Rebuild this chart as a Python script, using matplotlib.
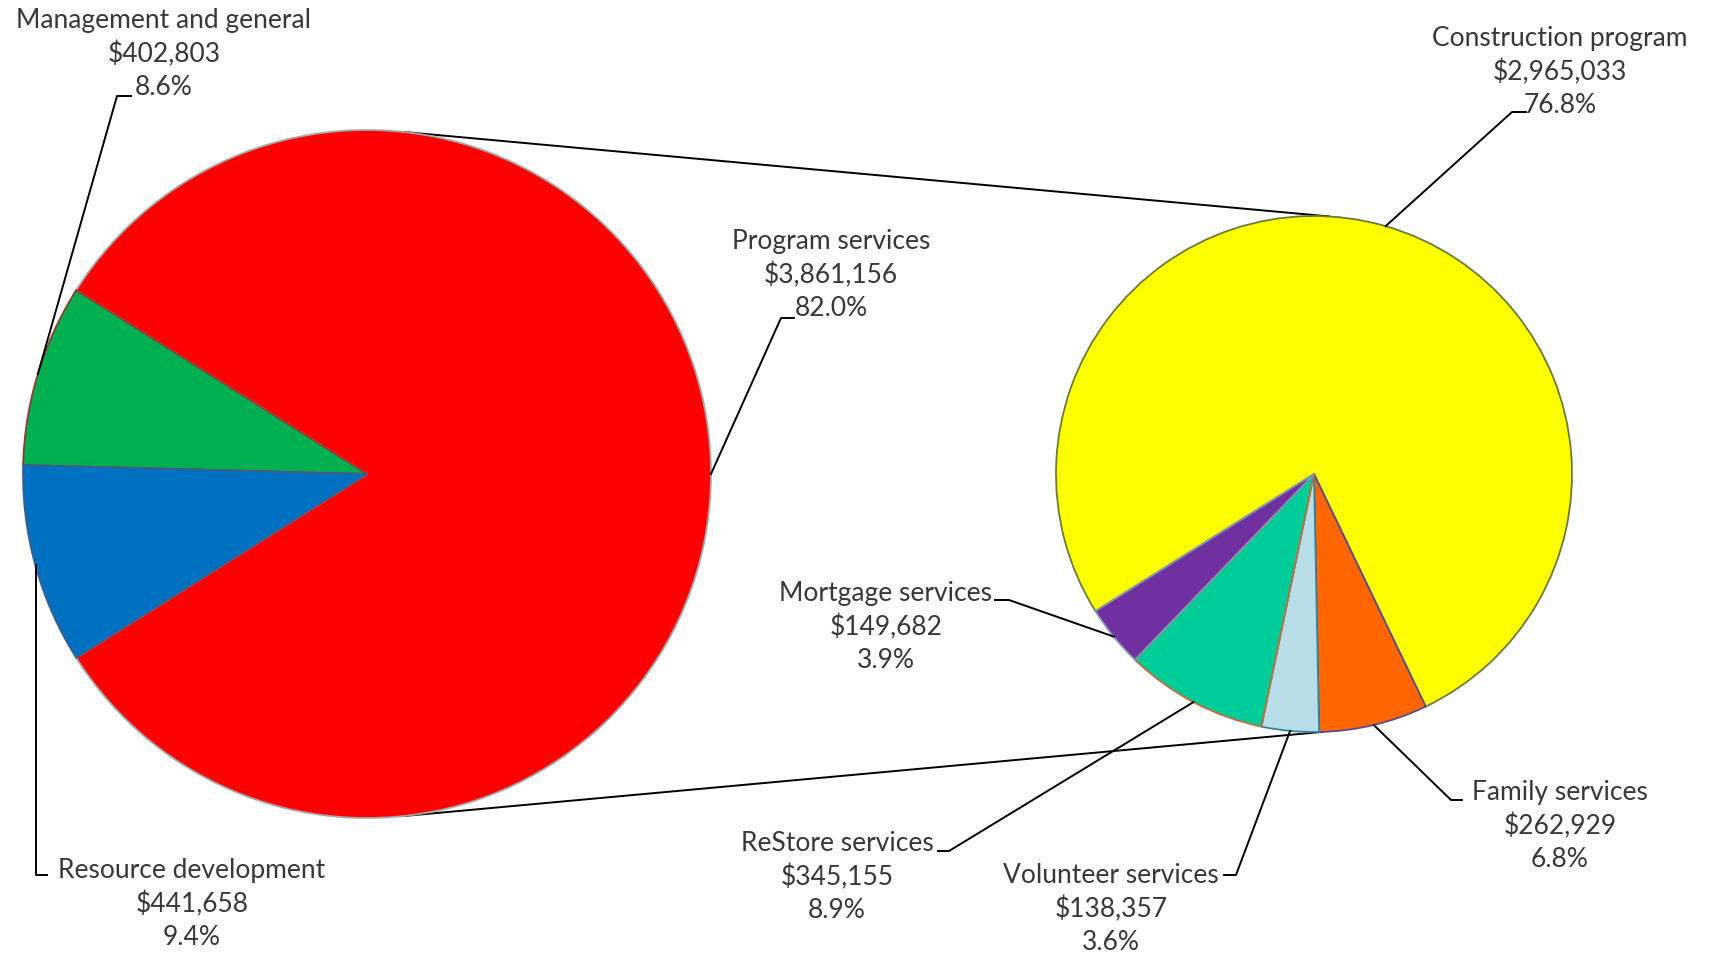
import numpy as np
import matplotlib.pyplot as plt

# main pie
main_labels = ["Program services", "Management and general", "Resource development"]
main_values = [3861156, 402803, 441658]
main_pct = [82.0, 8.6, 9.4]
main_colors = ["#ff0000", "#00b050", "#0070c0"]
main_edges = ["#a6a6a6", "#943634", "#3a5f8f"]

# breakdown of program services
sub_labels = ["Construction program", "Family services", "Volunteer services",
              "ReStore services", "Mortgage services"]
sub_values = [2965033, 262929, 138357, 345155, 149682]
sub_pct = [76.8, 6.8, 3.6, 8.9, 3.9]
sub_colors = ["#ffff00", "#ff6600", "#b7dde8", "#00cc99", "#7030a0"]
sub_edges = ["#6b7b3a", "#5f4b8b", "#31859c", "#c0703a", "#8497b0"]

W, H = 1711, 956
C1, R1 = (367, H - 474), 344
C2, R2 = (1314, H - 474), 258
TXT = "#383838"
FONT = "Lato"

fig = plt.figure(figsize=(W / 100, H / 100), dpi=100)
ax = fig.add_axes([0, 0, 1, 1])

frac0 = main_values[0] / sum(main_values)
w1, _ = ax.pie(main_values, colors=main_colors, startangle=-frac0 * 180,
               center=C1, radius=R1, counterclock=True,
               wedgeprops=dict(linewidth=1.3))
for w, ec in zip(w1, main_edges):
    w.set_edgecolor(ec)

w2, _ = ax.pie(sub_values, colors=sub_colors, startangle=212.1,
               center=C2, radius=R2, counterclock=False,
               wedgeprops=dict(linewidth=1.3))
for w, ec in zip(w2, sub_edges):
    w.set_edgecolor(ec)

ax.set_xlim(0, W)
ax.set_ylim(0, H)
ax.set_aspect("equal")
ax.axis("off")


def edge_pt(wedge, center, r):
    a = np.deg2rad((wedge.theta1 + wedge.theta2) / 2)
    return center[0] + r * np.cos(a), center[1] + r * np.sin(a)


def pol(center, r, deg):
    a = np.deg2rad(deg)
    return center[0] + r * np.cos(a), center[1] + r * np.sin(a)


# connector lines between the two pies
for a1, a2 in [(83.8, 86.6), (-83.8, -88.0)]:
    p, q = pol(C1, R1, a1), pol(C2, R2, a2)
    ax.plot([p[0], q[0]], [p[1], q[1]], color="black", lw=1.4, zorder=0)

# label centre (middle line, px from top), elbow point, end of elbow
main_pos = [
    ((831, 275), (781, 318), (794, 318)),
    ((164, 54), (117, 96), (131, 96)),
    ((192, 904), (36, 875), (47, 875)),
]
sub_pos = [
    ((1560, 72), (1512, 112), (1526, 112)),
    ((1560, 826), (1451, 800), (1462, 800)),
    ((1111, 909), (1236, 875), (1224, 875)),
    ((837, 877), (949, 851), (938, 851)),
    ((886, 627), (1009, 600), (995, 600)),
]


def put_label(name, val, pct, pos, wedge, center, r):
    (tx, ty), (ex, ey), (fx, fy) = pos
    txt = f"{name}\n${val:,.0f}\n{pct:.1f}%"
    ax.text(tx, H - ty, txt, ha="center", va="center", fontsize=19,
            color=TXT, family=FONT, linespacing=1.38)
    sx, sy = edge_pt(wedge, center, r)
    if name == "Resource development":
        sx = ex
    ax.plot([sx, ex, fx], [sy, H - ey, H - fy], color="black", lw=1.4,
            zorder=5)


for name, val, pct, pos, w in zip(main_labels, main_values, main_pct, main_pos, w1):
    put_label(name, val, pct, pos, w, C1, R1)
for name, val, pct, pos, w in zip(sub_labels, sub_values, sub_pct, sub_pos, w2):
    put_label(name, val, pct, pos, w, C2, R2)

fig.savefig("out.png", dpi=100, facecolor="white")
